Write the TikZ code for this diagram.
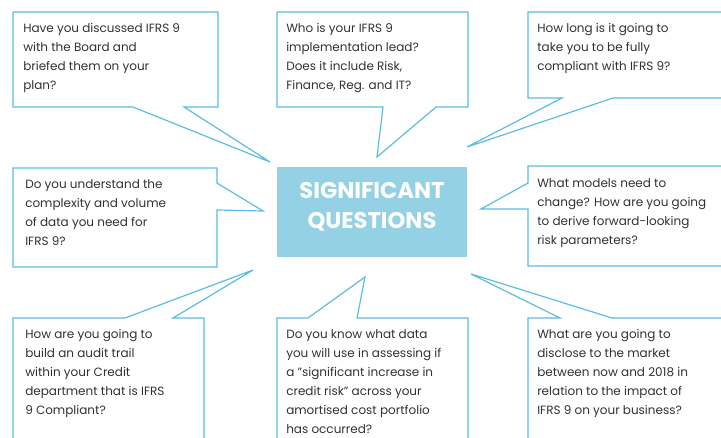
\documentclass[tikz,border=0pt]{standalone}
\usepackage{fontspec}
\setmainfont{Poppins}
\usetikzlibrary{calc}
\definecolor{edgeblue}{RGB}{92,189,224}
\definecolor{corefill}{RGB}{148,209,229}
\definecolor{qgray}{RGB}{50,50,50}
\tikzset{
  bubble/.style={draw=edgeblue, line width=0.9pt, fill=white, line join=miter},
  qtext/.style={anchor=north west, inner sep=0pt, align=left, text=qgray,
    font=\fontsize{9}{14.25}\selectfont},
  corebox/.style={fill=corefill, draw=none},
  coretext/.style={inner sep=0pt, align=center, text=white,
    font=\fontsize{17}{22.5}\selectfont\bfseries},
}
\newcommand{\firstline}{\rule{0pt}{7.5pt}}
\begin{document}
\begin{tikzpicture}[x=0.75pt, y=-0.75pt]
  \clip (0,0) rectangle (721,438);
  \fill[white] (0,0) rectangle (721,438);

  % tips of the speech-bubble tails
  \coordinate (tipA) at (270,162);
  \coordinate (tipB) at (377,157);
  \coordinate (tipC) at (467,147);
  \coordinate (tipD) at (263,211);
  \coordinate (tipE) at (481,209);
  \coordinate (tipF) at (253,270);
  \coordinate (tipG) at (365,277);
  \coordinate (tipH) at (471,274);

  % speech bubbles: box outline with the tail cut into one side
  \draw[bubble] (13,12) -- (218,12) -- (218,107) -- (184,107) -- (tipA) -- (133,107) -- (13,107) -- cycle;
  \draw[bubble] (277,12) -- (468,12) -- (468,107) -- (436,107) -- (tipB) -- (383,107) -- (277,107) -- cycle;
  \draw[bubble] (528,12) -- (740,12) -- (740,98) -- (613,98) -- (tipC) -- (562,98) -- (528,98) -- cycle;
  \draw[bubble] (13,168) -- (217,168) -- (217,183) -- (tipD) -- (217,210) -- (217,267) -- (13,267) -- cycle;
  \draw[bubble] (528,166) -- (740,166) -- (740,266) -- (528,266) -- (528,209) -- (tipE) -- (528,183) -- cycle;
  \draw[bubble] (13,318) -- (125,318) -- (tipF) -- (173,318) -- (204,318) -- (204,460) -- (13,460) -- cycle;
  \draw[bubble] (277,318) -- (308,318) -- (tipG) -- (357,318) -- (468,318) -- (468,460) -- (277,460) -- cycle;
  \draw[bubble] (528,318) -- (560,318) -- (tipH) -- (612,318) -- (740,318) -- (740,460) -- (528,460) -- cycle;

  % central box
  \fill[corebox] (277,167) rectangle (467,257);
  \node[coretext, anchor=north] (core) at (372,181)
    {\rule{0pt}{12.8pt}SIGNIFICANT\\QUESTIONS};

  % questions
  \node[qtext] (qboard) at (23,22)
    {\firstline Have you discussed IFRS 9\\with the Board and\\briefed them on your\\plan?};
  \node[qtext] (qlead) at (286,22)
    {\firstline Who is your IFRS 9\\implementation lead?\\Does it include Risk,\\Finance, Reg. and IT?};
  \node[qtext] (qtime) at (537,22)
    {\firstline How long is it going to\\take you to be fully\\compliant with IFRS 9?};
  \node[qtext] (qdata) at (25,178)
    {\firstline Do you understand the\\complexity and volume\\of data you need for\\IFRS 9?};
  \node[qtext] (qmodels) at (537,177)
    {\firstline What models need to\\change? How are you going\\to derive forward-looking\\risk parameters?};
  \node[qtext] (qaudit) at (25,328)
    {\firstline How are you going to\\build an audit trail\\within your Credit\\department that is IFRS\\9 Compliant?};
  \node[qtext] (qsicr) at (286,328)
    {\firstline Do you know what data\\you will use in assessing if\\a \symbol{34}significant increase in\\credit risk\symbol{34} across your\\amortised cost portfolio\\has occurred?};
  \node[qtext] (qdisclose) at (537,328)
    {\firstline What are you going to\\disclose to the market\\between now and 2018 in\\relation to the impact of\\IFRS 9 on your business?};
\end{tikzpicture}
\end{document}
